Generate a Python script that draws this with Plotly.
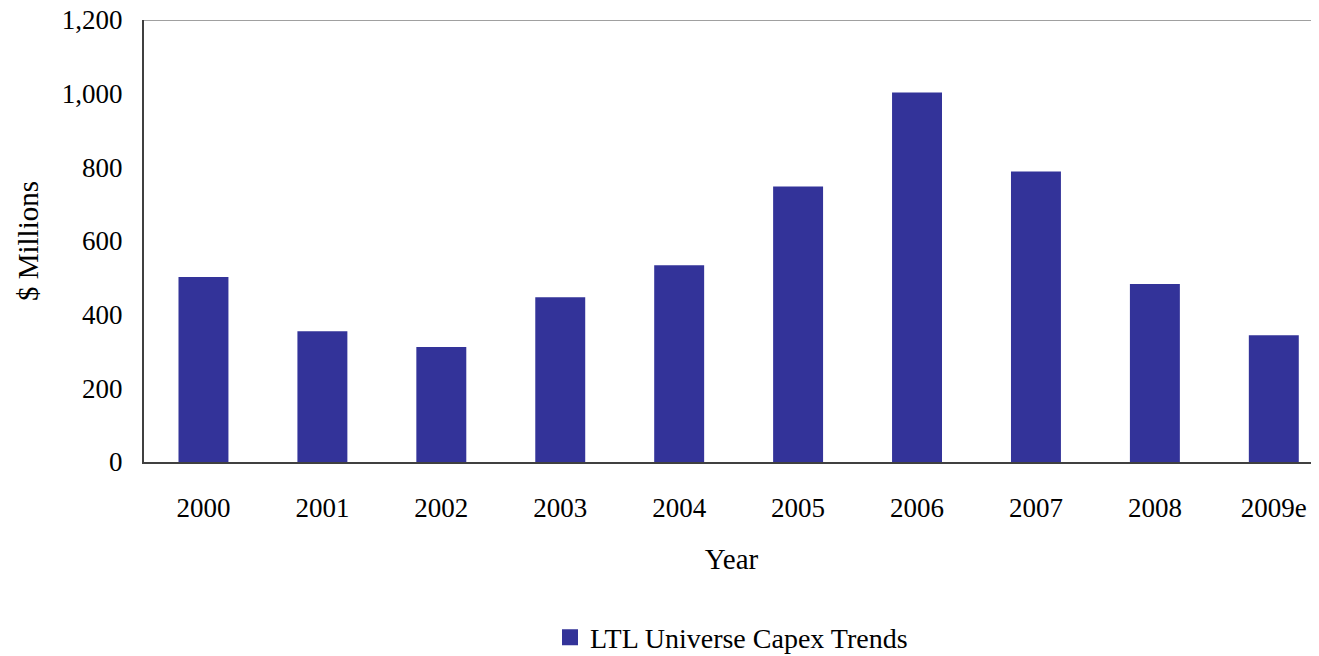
import plotly.graph_objects as go

years = ["2000", "2001", "2002", "2003", "2004", "2005", "2006", "2007", "2008", "2009e"]
capex = [502, 355, 312, 447, 534, 748, 1003, 789, 483, 344]
series_name = "LTL Universe Capex Trends"

FONT = "Liberation Serif, Times New Roman, serif"
BAR_COLOR = "#333399"

fig = go.Figure()
fig.add_trace(go.Bar(
    x=years,
    y=capex,
    name=series_name,
    marker=dict(color=BAR_COLOR, line=dict(width=0)),
    width=0.42,
    showlegend=False,
))
# legend entry with a larger square swatch
fig.add_trace(go.Scatter(
    x=[None], y=[None], mode="markers", name=series_name,
    marker=dict(symbol="square", size=18, color=BAR_COLOR),
    showlegend=True,
))

# light grey top border of the plot area
fig.add_shape(type="line", xref="paper", yref="y", x0=0, x1=1, y0=1200, y1=1200,
              line=dict(color="#a0a0a0", width=2))

# page body has an 8px margin, so the figure is sized/offset to compensate
fig.update_layout(
    width=1311,
    height=648,
    plot_bgcolor="white",
    paper_bgcolor="white",
    font=dict(family=FONT, size=27, color="black"),
    margin=dict(l=136, r=0, t=12, b=194, autoexpand=False),
    bargap=0.58,
    showlegend=True,
    legend=dict(orientation="h", x=0.5, xanchor="center", y=-0.397, yanchor="middle",
                font=dict(family=FONT, size=28), itemwidth=30),
    xaxis=dict(
        title=dict(text="Year", font=dict(family=FONT, size=29), standoff=26),
        range=[-0.5, 9.38],
        showline=True, linecolor="#404040", linewidth=2,
        showgrid=False, ticks="", ticklabelstandoff=21,
        tickfont=dict(size=27),
        automargin=False,
    ),
    yaxis=dict(
        title=dict(text="$ Millions", font=dict(family=FONT, size=29), standoff=15),
        range=[0, 1200],
        dtick=200,
        tickformat=",d",
        showline=True, linecolor="#404040", linewidth=2,
        showgrid=False, ticks="", ticklabelstandoff=14,
        ticklabeloverflow="allow",
        tickfont=dict(size=27),
        zeroline=False,
        automargin=False,
    ),
)

fig.write_html("out.html")
